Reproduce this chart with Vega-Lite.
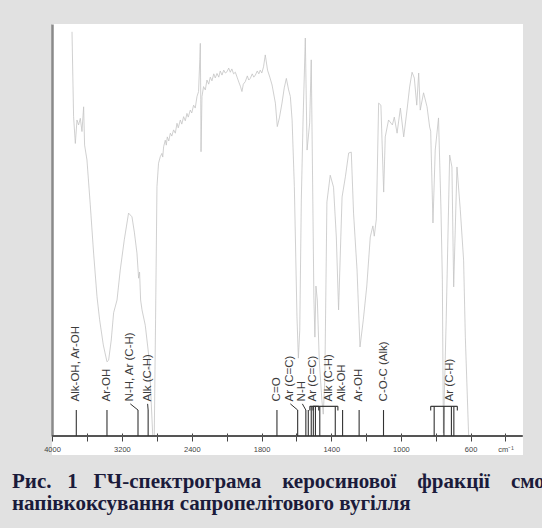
{
  "$schema": "https://vega.github.io/schema/vega-lite/v6.json",
  "width": 471,
  "height": 431,
  "autosize": {"type": "none"},
  "padding": {"left": 52, "top": 24, "right": 19, "bottom": 73},
  "background": "#e1e1e1",
  "config": {"view": {"fill": "white", "stroke": null}},
  "title": {
    "text": ["Рис.\u00a0\u00a0\u00a01\u00a0\u00a0\u00a0ГЧ-спектрограма\u00a0\u00a0\u00a0\u00a0керосинової\u00a0\u00a0\u00a0\u00a0фракції\u00a0\u00a0\u00a0\u00a0смоли", "напівкоксування сапропелітового вугілля"],
    "orient": "bottom", "anchor": "start", "frame": "group",
    "dx": -40, "offset": 16,
    "font": "Liberation Serif", "fontSize": 21, "fontWeight": "bold",
    "color": "#1b1b3b", "lineHeight": 22
  },
  "resolve": {"axis": {"x": "independent", "y": "independent"}},
  "datasets": {
    "spectrum": [
      {"wn":3771,"t":98.1},{"wn":3753,"t":77.5},{"wn":3733,"t":71.0},{"wn":3714,"t":76.7},{"wn":3696,"t":75.5},{"wn":3676,"t":77.1},{"wn":3657,"t":73.9},{"wn":3638,"t":79.9},{"wn":3627,"t":70.6},{"wn":3600,"t":67.0},{"wn":3562,"t":56.1},{"wn":3524,"t":44.4},{"wn":3485,"t":33.8},{"wn":3455,"t":28.2},{"wn":3413,"t":22.1},{"wn":3371,"t":18.0},{"wn":3352,"t":18.4},{"wn":3322,"t":23.3},{"wn":3295,"t":29.9},{"wn":3256,"t":33.0},{"wn":3219,"t":40.3},{"wn":3173,"t":47.6},{"wn":3124,"t":54.1},{"wn":3085,"t":53.2},{"wn":3058,"t":49.5},{"wn":3028,"t":44.4},{"wn":3009,"t":38.3},{"wn":2998,"t":39.8},{"wn":2986,"t":33.0},{"wn":2970,"t":30.6},{"wn":2933,"t":26.9},{"wn":2887,"t":18.4},{"wn":2847,"t":0},{"wn":2830,"t":0},{"wn":2815,"t":28.2},{"wn":2799,"t":60.5},{"wn":2781,"t":66.2},{"wn":2761,"t":67.8},{"wn":2742,"t":68.6},{"wn":2733,"t":67.7},{"wn":2723,"t":70.2},{"wn":2704,"t":71.8},{"wn":2692,"t":70.6},{"wn":2681,"t":72.6},{"wn":2664,"t":71.6},{"wn":2646,"t":73.5},{"wn":2629,"t":72.8},{"wn":2609,"t":74.3},{"wn":2589,"t":73.5},{"wn":2570,"t":75.9},{"wn":2555,"t":74.8},{"wn":2532,"t":76.7},{"wn":2515,"t":75.7},{"wn":2494,"t":77.5},{"wn":2475,"t":76.5},{"wn":2456,"t":78.3},{"wn":2441,"t":77.4},{"wn":2418,"t":79.1},{"wn":2401,"t":78.4},{"wn":2380,"t":80.3},{"wn":2361,"t":79.6},{"wn":2341,"t":82.4},{"wn":2323,"t":83.6},{"wn":2309,"t":91.3},{"wn":2303,"t":95.3},{"wn":2298,"t":81.6},{"wn":2295,"t":69.0},{"wn":2284,"t":82.4},{"wn":2266,"t":84.8},{"wn":2246,"t":84.0},{"wn":2227,"t":86.4},{"wn":2207,"t":85.4},{"wn":2189,"t":87.1},{"wn":2170,"t":86.2},{"wn":2149,"t":87.9},{"wn":2132,"t":86.9},{"wn":2112,"t":88.0},{"wn":2092,"t":87.1},{"wn":2075,"t":88.6},{"wn":2055,"t":87.6},{"wn":2035,"t":88.8},{"wn":2017,"t":88.1},{"wn":1999,"t":88.4},{"wn":1989,"t":89.3},{"wn":1980,"t":88.3},{"wn":1971,"t":89.1},{"wn":1961,"t":87.9},{"wn":1951,"t":88.3},{"wn":1941,"t":87.1},{"wn":1931,"t":85.9},{"wn":1922,"t":84.9},{"wn":1913,"t":83.6},{"wn":1905,"t":85.4},{"wn":1894,"t":86.0},{"wn":1882,"t":87.4},{"wn":1874,"t":86.4},{"wn":1865,"t":86.8},{"wn":1854,"t":87.9},{"wn":1845,"t":87.1},{"wn":1836,"t":87.6},{"wn":1825,"t":88.6},{"wn":1816,"t":87.9},{"wn":1808,"t":88.8},{"wn":1799,"t":88.1},{"wn":1789,"t":89.6},{"wn":1779,"t":92.5},{"wn":1766,"t":88.8},{"wn":1753,"t":87.1},{"wn":1740,"t":85.2},{"wn":1721,"t":80.8},{"wn":1710,"t":75.1},{"wn":1698,"t":77.2},{"wn":1683,"t":80.8},{"wn":1670,"t":84.5},{"wn":1658,"t":86.8},{"wn":1645,"t":84.0},{"wn":1635,"t":82.4},{"wn":1625,"t":76.7},{"wn":1612,"t":60.5},{"wn":1597,"t":28.9},{"wn":1589,"t":18.9},{"wn":1581,"t":25.7},{"wn":1572,"t":57.3},{"wn":1562,"t":76.7},{"wn":1549,"t":96.6},{"wn":1539,"t":69.4},{"wn":1524,"t":76.0},{"wn":1515,"t":91.3},{"wn":1506,"t":57.3},{"wn":1500,"t":34.0},{"wn":1494,"t":24.0},{"wn":1488,"t":36.4},{"wn":1480,"t":33.0},{"wn":1469,"t":18.4},{"wn":1454,"t":8.7},{"wn":1446,"t":5.3},{"wn":1437,"t":13.6},{"wn":1425,"t":56.8},{"wn":1406,"t":63.3},{"wn":1387,"t":60.4},{"wn":1371,"t":48.3},{"wn":1358,"t":30.6},{"wn":1338,"t":58.0},{"wn":1319,"t":62.9},{"wn":1300,"t":68.7},{"wn":1285,"t":68.9},{"wn":1272,"t":54.1},{"wn":1252,"t":40.3},{"wn":1235,"t":21.6},{"wn":1216,"t":28.2},{"wn":1196,"t":36.4},{"wn":1176,"t":48.3},{"wn":1161,"t":51.0},{"wn":1153,"t":48.5},{"wn":1141,"t":52.7},{"wn":1128,"t":80.8},{"wn":1115,"t":80.3},{"wn":1099,"t":59.2},{"wn":1090,"t":72.6},{"wn":1071,"t":76.7},{"wn":1049,"t":75.5},{"wn":1038,"t":77.4},{"wn":1022,"t":73.5},{"wn":1003,"t":79.6},{"wn":984,"t":72.6},{"wn":965,"t":79.1},{"wn":950,"t":84.7},{"wn":936,"t":88.3},{"wn":923,"t":86.9},{"wn":909,"t":80.3},{"wn":898,"t":88.1},{"wn":889,"t":79.1},{"wn":870,"t":83.3},{"wn":850,"t":79.9},{"wn":835,"t":75.0},{"wn":829,"t":74.0},{"wn":816,"t":51.7},{"wn":803,"t":69.4},{"wn":784,"t":77.2},{"wn":770,"t":55.1},{"wn":762,"t":37.9},{"wn":756,"t":0.7},{"wn":740,"t":28.2},{"wn":720,"t":68.2},{"wn":707,"t":65.3},{"wn":697,"t":36.2},{"wn":678,"t":65.3},{"wn":659,"t":54.9},{"wn":640,"t":42.7},{"wn":630,"t":24.0},{"wn":611,"t":0}
    ],
    "rules": [
      {"wn":3722,"g":"s"},{"wn":3371,"g":"s"},{"wn":3016,"g":"s"},{"wn":2900,"g":"s"},{"wn":1712,"g":"s"},{"wn":1593,"g":"s"},{"wn":1546,"g":"s"},{"wn":1532,"g":"s"},{"wn":1515,"g":"b"},{"wn":1503,"g":"b"},{"wn":1491,"g":"b"},{"wn":1466,"g":"b"},{"wn":1377,"g":"b"},{"wn":1335,"g":"s"},{"wn":1240,"g":"s"},{"wn":1100,"g":"s"},{"wn":809,"g":"b"},{"wn":753,"g":"b"},{"wn":710,"g":"b"},{"wn":696,"g":"b"}
    ],
    "labels": [
      {"label":"Alk-OH, Ar-OH","wn":3722,"to":3722},{"label":"Ar-OH","wn":3375,"to":3371},{"label":"N-H, Ar (C-H)","wn":3104,"to":3016},{"label":"Alk (C-H)","wn":2906,"to":2900},{"label":"C=O","wn":1712,"to":1712},{"label":"Ar (C=C)","wn":1635,"to":1593},{"label":"N-H","wn":1566,"to":1546},{"label":"Ar (C=C)","wn":1505,"to":1505},{"label":"Alk (C-H)","wn":1415,"to":1415},{"label":"Alk-OH","wn":1338,"to":1335},{"label":"Ar-OH","wn":1243,"to":1240},{"label":"C-O-C (Alk)","wn":1100,"to":1100},{"label":"Ar (C-H)","wn":720,"to":720}
    ],
    "brackets": [
      {"a":1523,"b":1362},{"a":1505,"b":1472},{"a":829,"b":676}
    ]
  },
  "layer": [
    {
      "data": {"name": "spectrum"},
      "mark": {"type": "line", "color": "#c4c4c4", "strokeWidth": 0.8},
      "encoding": {
        "x": {"field": "wn", "type": "quantitative",
          "scale": {"domain": [4000, 2000, 300], "range": [0, 174.8, 470.8], "nice": false, "zero": false},
          "axis": {"orient": "bottom", "offset": -22, "title": null, "grid": false, "domain": false,
            "values": [4000,3600,3200,2800,2400,2000,1800,1600,1400,1200,1000,800,600,400],
            "labelExpr": "datum.value == 400 ? 'cm\u207b\u00b9' : ((datum.value == 4000 || datum.value == 3200 || datum.value == 2400 || datum.value == 1800 || datum.value == 1400 || datum.value == 1000 || datum.value == 600) ? format(datum.value, 'd') : '')",
            "tickColor": "#444", "tickSize": 8, "tickWidth": 1,
            "labelFont": "Liberation Sans", "labelFontSize": 7.5, "labelColor": "#444", "labelPadding": 4,
            "labelFlush": false, "labelOverlap": false}},
        "y": {"field": "t", "type": "quantitative",
          "scale": {"domain": [0, 100], "range": [412, 0], "nice": false, "zero": false},
          "axis": {"orient": "left", "title": null, "grid": false, "ticks": false, "labels": false,
            "domain": true, "domainColor": "#8a8a8a", "domainWidth": 2.5}}
      }
    },
    {
      "data": {"values": [{}]},
      "mark": {"type": "rule", "color": "#555", "strokeWidth": 1.8},
      "encoding": {
        "x": {"datum": 4000, "type": "quantitative", "axis": null},
        "x2": {"datum": 300},
        "y": {"datum": 0, "type": "quantitative", "axis": null}
      }
    },
    {
      "data": {"name": "rules"},
      "transform": [{"filter": "datum.g == 's'"}],
      "mark": {"type": "rule", "color": "#333", "strokeWidth": 1.1},
      "encoding": {
        "x": {"field": "wn", "type": "quantitative", "axis": null},
        "y": {"datum": 0, "type": "quantitative", "axis": null},
        "y2": {"datum": 6.3}
      }
    },
    {
      "data": {"name": "rules"},
      "transform": [{"filter": "datum.g == 'b'"}],
      "mark": {"type": "rule", "color": "#333", "strokeWidth": 1.1},
      "encoding": {
        "x": {"field": "wn", "type": "quantitative", "axis": null},
        "y": {"datum": 0, "type": "quantitative", "axis": null},
        "y2": {"datum": 7.2}
      }
    },
    {
      "data": {"name": "brackets"},
      "mark": {"type": "rule", "color": "#333", "strokeWidth": 1.2},
      "encoding": {
        "x": {"field": "a", "type": "quantitative", "axis": null},
        "x2": {"field": "b"},
        "y": {"datum": 7.2, "type": "quantitative", "axis": null}
      }
    },
    {
      "data": {"name": "brackets"},
      "transform": [{"fold": ["a", "b"], "as": ["end", "ewn"]}],
      "mark": {"type": "rule", "color": "#333", "strokeWidth": 1.1},
      "encoding": {
        "x": {"field": "ewn", "type": "quantitative", "axis": null},
        "y": {"datum": 7.2, "type": "quantitative", "axis": null},
        "y2": {"datum": 6.2}
      }
    },
    {
      "data": {"name": "labels"},
      "transform": [{"filter": "abs(datum.wn - datum.to) > 5"}],
      "mark": {"type": "rule", "color": "#333", "strokeWidth": 1},
      "encoding": {
        "x": {"field": "wn", "type": "quantitative", "axis": null},
        "x2": {"field": "to"},
        "y": {"datum": 7.8, "type": "quantitative", "axis": null},
        "y2": {"datum": 6.3}
      }
    },
    {
      "data": {"name": "labels"},
      "mark": {"type": "text", "angle": 270, "align": "left", "baseline": "middle", "font": "Liberation Sans", "fontSize": 11.5, "color": "#3c3c3c"},
      "encoding": {
        "x": {"field": "wn", "type": "quantitative", "axis": null},
        "y": {"datum": 8.4, "type": "quantitative", "axis": null},
        "text": {"field": "label"}
      }
    }
  ]
}
